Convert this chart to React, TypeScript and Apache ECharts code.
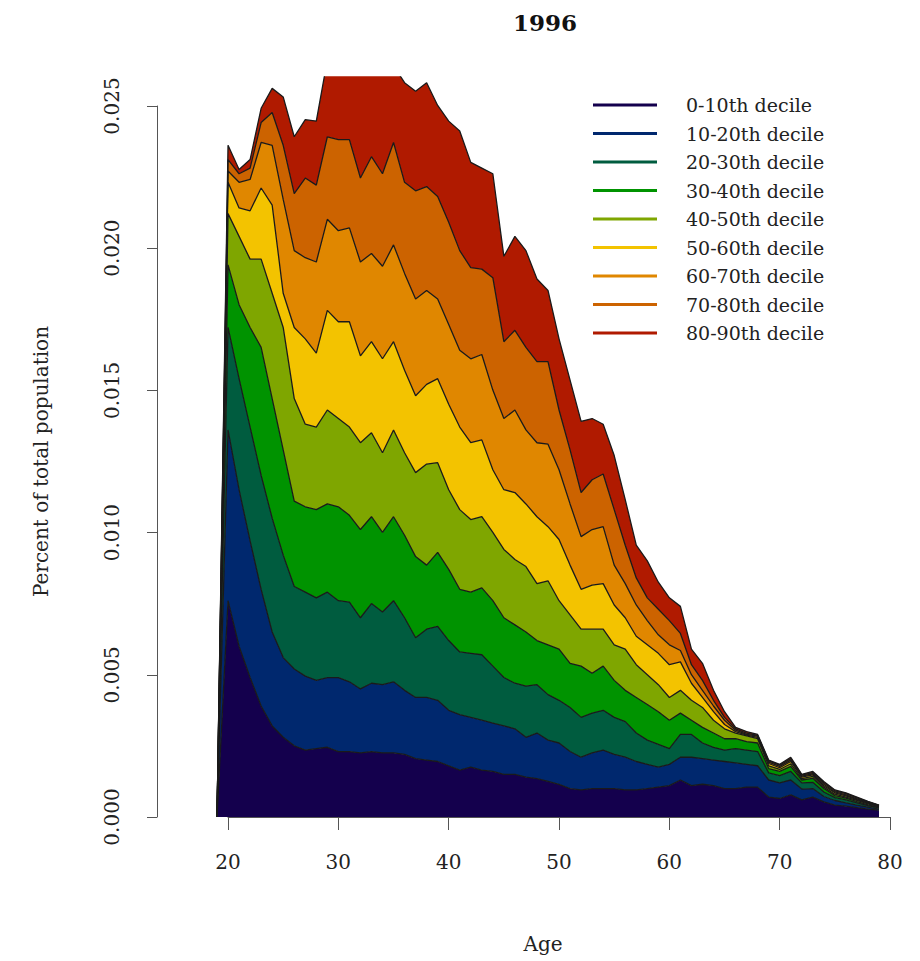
import React, { useEffect, useRef } from "react";
import * as echarts from "echarts";

// Ages (x categories)
const ages = [19, 20, 21, 22, 23, 24, 25, 26, 27, 28, 29, 30, 31, 32, 33, 34, 35, 36, 37, 38, 39, 40, 41, 42, 43, 44, 45, 46, 47, 48, 49, 50, 51, 52, 53, 54, 55, 56, 57, 58, 59, 60, 61, 62, 63, 64, 65, 66, 67, 68, 69, 70, 71, 72, 73, 74, 75, 76, 77, 78, 79];

const xTicks = [20, 30, 40, 50, 60, 70, 80];
const yTickLabels = ["0.000", "0.005", "0.010", "0.015", "0.020", "0.025"];

const decileNames = ["0-10th decile", "10-20th decile", "20-30th decile", "30-40th decile", "40-50th decile", "50-60th decile", "60-70th decile", "70-80th decile", "80-90th decile"];
const decileColors = ["#14004d", "#00286e", "#005c3f", "#009300", "#7fa600", "#f3c300", "#e08700", "#cc6300", "#b01a00"];

// values in thousandths of the total population (x 0.001)
const d00_10 = [0, 7.6, 6.0, 4.9, 3.9, 3.2, 2.8, 2.5, 2.35, 2.4, 2.45, 2.3, 2.3, 2.25, 2.3, 2.25, 2.25, 2.2, 2.05, 2.0, 1.95, 1.8, 1.65, 1.75, 1.65, 1.6, 1.5, 1.5, 1.4, 1.35, 1.25, 1.15, 1.0, 0.95, 1.0, 1.0, 1.0, 0.95, 0.95, 1.0, 1.05, 1.1, 1.3, 1.1, 1.15, 1.1, 1.0, 1.0, 1.05, 1.05, 0.7, 0.65, 0.78, 0.6, 0.7, 0.53, 0.42, 0.38, 0.33, 0.28, 0.24];
const d10_20 = [0, 6.0, 5.5, 4.8, 4.1, 3.3, 2.8, 2.7, 2.6, 2.4, 2.45, 2.6, 2.45, 2.25, 2.4, 2.4, 2.5, 2.25, 2.15, 2.2, 2.15, 1.95, 1.95, 1.75, 1.75, 1.7, 1.7, 1.6, 1.4, 1.6, 1.45, 1.45, 1.3, 1.15, 1.25, 1.35, 1.2, 1.15, 1.0, 0.85, 0.7, 0.75, 0.8, 1.0, 0.9, 0.9, 0.95, 0.9, 0.8, 0.75, 0.6, 0.55, 0.52, 0.38, 0.3, 0.19, 0.16, 0.12, 0.09, 0.07, 0.04];
const d20_30 = [0, 3.6, 3.9, 4.0, 4.0, 4.0, 3.6, 2.9, 2.95, 2.9, 3.0, 2.7, 2.8, 2.5, 2.8, 2.55, 2.85, 2.55, 2.1, 2.4, 2.6, 2.45, 2.2, 2.25, 2.3, 2.0, 1.7, 1.6, 1.8, 1.7, 1.6, 1.5, 1.55, 1.4, 1.4, 1.4, 1.3, 1.25, 1.0, 0.85, 0.8, 0.55, 0.8, 0.8, 0.55, 0.45, 0.4, 0.5, 0.5, 0.5, 0.25, 0.25, 0.3, 0.22, 0.22, 0.16, 0.1, 0.1, 0.08, 0.05, 0.04];
const d30_40 = [0, 2.2, 2.6, 3.5, 4.5, 4.2, 3.7, 3.0, 3.0, 3.1, 3.1, 3.3, 3.05, 3.1, 3.05, 2.8, 2.95, 2.9, 2.85, 2.25, 2.6, 2.5, 2.2, 2.15, 2.35, 2.3, 2.1, 2.05, 1.9, 1.55, 1.75, 1.8, 1.55, 1.8, 1.4, 1.55, 1.3, 1.1, 1.25, 1.25, 1.15, 1.0, 0.75, 0.5, 0.55, 0.5, 0.4, 0.35, 0.3, 0.3, 0.15, 0.15, 0.18, 0.1, 0.14, 0.12, 0.07, 0.06, 0.04, 0.03, 0.02];
const d40_50 = [0, 1.8, 2.4, 2.4, 3.1, 3.7, 4.3, 3.6, 2.9, 2.9, 3.3, 3.1, 3.1, 3.05, 2.95, 2.8, 3.05, 2.9, 2.95, 3.55, 3.15, 2.8, 2.8, 2.55, 2.5, 2.4, 2.4, 2.3, 2.3, 2.0, 2.25, 1.7, 1.7, 1.3, 1.55, 1.3, 1.25, 1.45, 1.15, 1.05, 0.95, 0.8, 0.8, 0.7, 0.7, 0.45, 0.35, 0.2, 0.2, 0.15, 0.1, 0.07, 0.09, 0.05, 0.07, 0.05, 0.05, 0.04, 0.04, 0.03, 0.02];
const d50_60 = [0, 1.1, 1.0, 1.7, 2.5, 3.1, 1.2, 2.5, 3.0, 2.6, 3.5, 3.4, 3.7, 3.05, 3.2, 3.3, 3.1, 2.9, 2.7, 2.8, 2.95, 3.0, 2.9, 2.7, 2.7, 2.2, 2.1, 2.35, 2.2, 2.35, 1.9, 2.15, 1.75, 1.4, 1.55, 1.6, 1.4, 1.1, 1.0, 1.05, 1.1, 1.15, 1.0, 0.6, 0.35, 0.3, 0.15, 0.05, 0.03, 0.05, 0.08, 0.06, 0.08, 0.05, 0.05, 0.05, 0.05, 0.04, 0.03, 0.03, 0.02];
const d60_70 = [0, 0.4, 0.9, 1.1, 1.6, 2.1, 3.3, 2.7, 2.85, 3.2, 3.2, 3.2, 3.3, 3.3, 3.1, 3.25, 3.4, 3.4, 3.4, 3.3, 2.8, 2.8, 2.7, 2.95, 3.0, 2.8, 2.5, 2.9, 2.6, 2.6, 2.9, 2.45, 2.15, 1.85, 1.95, 2.0, 1.4, 1.2, 1.1, 0.85, 0.65, 0.7, 0.4, 0.3, 0.25, 0.2, 0.15, 0.05, 0.02, 0.04, 0.05, 0.05, 0.05, 0.04, 0.04, 0.05, 0.03, 0.04, 0.03, 0.02, 0.02];
const d70_80 = [0, 0.4, 0.3, 0.4, 0.7, 1.15, 1.9, 2.0, 2.8, 2.7, 2.9, 3.2, 3.1, 2.95, 3.4, 3.25, 3.6, 3.2, 3.8, 3.65, 3.6, 3.6, 3.5, 3.2, 3.0, 3.95, 2.7, 2.8, 2.9, 2.85, 2.9, 2.1, 1.9, 1.55, 1.75, 1.85, 1.95, 1.35, 0.95, 0.8, 0.9, 0.85, 0.6, 0.35, 0.35, 0.2, 0.1, 0.05, 0.05, 0.03, 0.04, 0.04, 0.05, 0.03, 0.04, 0.05, 0.04, 0.04, 0.03, 0.02, 0.01];
const d80_90 = [0, 0.5, 0.15, 0.3, 0.5, 0.85, 1.7, 2.0, 2.05, 2.25, 2.7, 3.6, 3.3, 4.25, 3.8, 4.0, 2.7, 3.5, 3.5, 3.65, 3.2, 3.55, 4.2, 3.7, 3.55, 3.65, 3.0, 3.3, 3.4, 2.9, 2.5, 2.5, 2.45, 2.5, 2.15, 1.75, 1.9, 1.6, 1.15, 1.3, 0.95, 0.8, 0.95, 0.55, 0.6, 0.35, 0.2, 0.05, 0.05, 0.03, 0.03, 0.03, 0.05, 0.03, 0.04, 0.05, 0.03, 0.03, 0.03, 0.02, 0.01];

const layers = [d00_10, d10_20, d20_30, d30_40, d40_50, d50_60, d60_70, d70_80, d80_90];

const SERIF = "'DejaVu Serif', 'Liberation Serif', serif";

export default function App() {
  const ref = useRef<HTMLDivElement>(null);

  useEffect(() => {
    if (!ref.current) return;
    const chart = echarts.init(ref.current, null, { renderer: "svg" });

    const series = layers.map((vals, k) => ({
      name: decileNames[k],
      type: "line",
      xAxisIndex: 0,
      yAxisIndex: 0,
      stack: "total",
      symbol: "none",
      showSymbol: false,
      clip: true,
      data: vals.map((v) => v / 1000),
      itemStyle: { color: decileColors[k] },
      lineStyle: { color: "#1a1a1a", width: 1.3 },
      areaStyle: { color: decileColors[k], opacity: 1 },
      emphasis: { disabled: true },
      z: 2,
    }));

    const option = {
      animation: false,
      backgroundColor: "#ffffff",
      title: {
        text: "1996",
        left: 508,
        top: 6,
        textStyle: { fontFamily: SERIF, fontWeight: "bold", fontSize: 23, color: "#111" },
      },
      legend: {
        orient: "vertical",
        left: 588,
        top: 90,
        itemWidth: 64,
        itemHeight: 3,
        itemGap: 8.5,
        selectedMode: false,
        textStyle: { fontFamily: SERIF, fontSize: 19, lineHeight: 20, color: "#222", padding: [0, 0, 0, 24] },
        data: decileNames.map((n, k) => ({ name: n, icon: "rect", itemStyle: { color: decileColors[k], borderWidth: 0 } })),
      },
      grid: [
        { left: 217, right: 41, top: 77, bottom: 144 },
        { left: 228, right: 30, top: 106, bottom: 144 },
      ],
      xAxis: [
        { type: "category", gridIndex: 0, data: ages.map(String), boundaryGap: false, show: false },
        {
          type: "value",
          gridIndex: 1,
          min: xTicks[0],
          max: xTicks[xTicks.length - 1],
          interval: 10,
          offset: 1,
          name: "Age",
          nameLocation: "middle",
          nameGap: 116,
          nameTextStyle: { fontFamily: SERIF, fontSize: 20, color: "#222", padding: [0, 32, 0, 0] },
          axisLine: { show: true, lineStyle: { color: "#555", width: 1 } },
          axisTick: { show: true, length: 13, lineStyle: { color: "#555" } },
          axisLabel: { fontFamily: SERIF, fontSize: 20, color: "#222", margin: 44, verticalAlign: "middle" },
          splitLine: { show: false },
        },
      ],
      yAxis: [
        { type: "value", gridIndex: 0, min: 0, max: 0.026, show: false },
        {
          type: "value",
          gridIndex: 1,
          min: 0,
          max: 0.025,
          interval: 0.005,
          offset: 71,
          name: "Percent of total population",
          nameLocation: "middle",
          nameGap: 106,
          nameRotate: 90,
          nameTextStyle: { fontFamily: SERIF, fontSize: 20, color: "#222" },
          axisLine: { show: true, lineStyle: { color: "#555", width: 1 } },
          axisTick: { show: true, length: 10, lineStyle: { color: "#555" } },
          axisLabel: {
            fontFamily: SERIF,
            fontSize: 20,
            color: "#222",
            rotate: 90,
            align: "center",
            verticalAlign: "middle",
            margin: 45,
            formatter: (v: number) => yTickLabels[Math.round(v / 0.005)] ?? "",
          },
          splitLine: { show: false },
        },
      ],
      series,
    };

    chart.setOption(option as any);
    return () => chart.dispose();
  }, []);

  return (
    <div
      ref={ref}
      style={{ position: "fixed", left: 0, top: 0, width: 920, height: 961, background: "#fff" }}
    />
  );
}
